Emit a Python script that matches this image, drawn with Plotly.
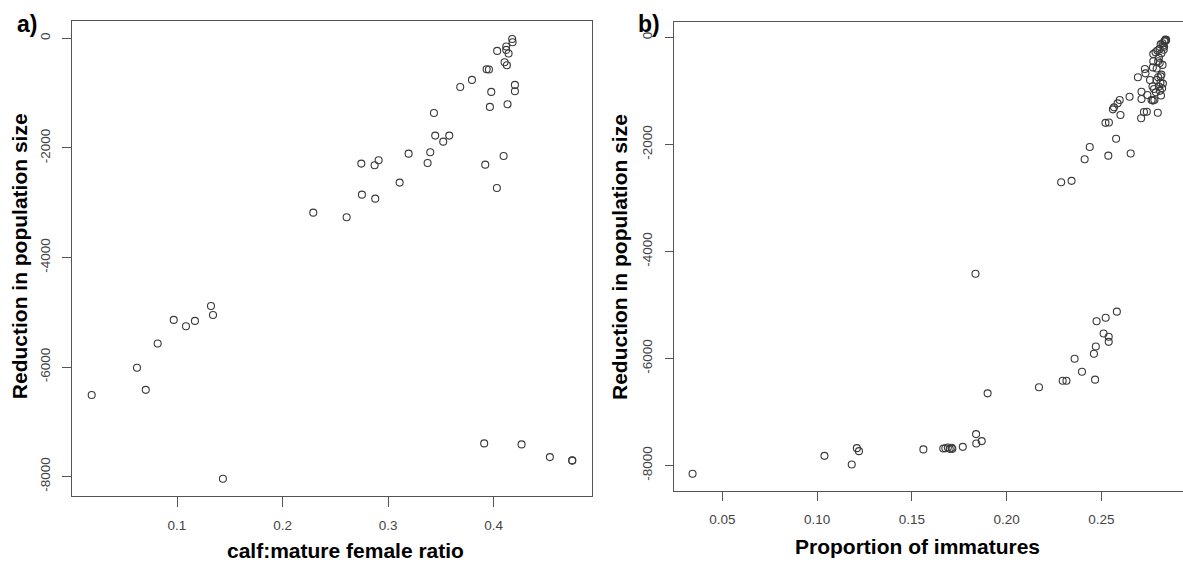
import plotly.graph_objects as go

# ---- Panel a) data: calf:mature female ratio vs reduction in population size
calf_ratio = [0.0192, 0.0621, 0.0704, 0.0817, 0.0969, 0.1085, 0.1170, 0.1322, 0.1341, 0.1435,
              0.2291, 0.2607, 0.2746, 0.2752, 0.2872, 0.2910, 0.2878, 0.3109, 0.3194, 0.3374,
              0.3399, 0.3434, 0.3446, 0.3522, 0.3579, 0.3683, 0.3794, 0.3933, 0.3955, 0.3920,
              0.3964, 0.3977, 0.4030, 0.4033, 0.4094, 0.4103, 0.4119, 0.4125, 0.4119, 0.4141,
              0.4131, 0.4175, 0.4179, 0.4201, 0.4201,
              0.3910, 0.4264, 0.4532, 0.4743, 0.4745]
reduction_a = [-6511, -6014, -6416, -5571, -5139, -5254, -5157, -4886, -5050, -8039,
               -3181, -3266, -2286, -2853, -2316, -2225, -2926, -2633, -2104, -2274,
               -2079, -1361, -1775, -1885, -1775, -886, -758, -564, -569, -2305,
               -1251, -977, -2731, -228, -2146, -435, -149, -490, -210, -277,
               -1202, -10, -70, -849, -965,
               -7394, -7412, -7644, -7704, -7708]

# ---- Panel b) data: proportion of immatures vs reduction in population size
immature_prop = [0.0343, 0.1039, 0.1183, 0.1210, 0.1221, 0.1561, 0.1666, 0.1677, 0.1690, 0.1700,
                 0.1710, 0.1714, 0.1769, 0.1839, 0.1840, 0.1869, 0.1900, 0.2171, 0.2296, 0.2316,
                 0.2359, 0.2398, 0.2467, 0.2461, 0.2471, 0.2475, 0.2512, 0.2523, 0.2539, 0.2539,
                 0.2582,
                 0.1836,
                 0.2288, 0.2343, 0.2412, 0.2439, 0.2537, 0.2578, 0.2655,
                 0.2522, 0.2540, 0.2561, 0.2567, 0.2586, 0.2597, 0.2601, 0.2649,
                 0.2710, 0.2725, 0.2740, 0.2712, 0.2712, 0.2743,
                 0.2693, 0.2730, 0.2733, 0.2757,
                 0.2765, 0.2772, 0.2780, 0.2770, 0.2778, 0.2788,
                 0.2772, 0.2774, 0.2774, 0.2786, 0.2796, 0.2804, 0.2808,
                 0.2798, 0.2791, 0.2800, 0.2804, 0.2812, 0.2813, 0.2817, 0.2821, 0.2815, 0.2809, 0.2825,
                 0.2813, 0.2823, 0.2833, 0.2840, 0.2838, 0.2808, 0.2817, 0.2829, 0.2831, 0.2800,
                 0.2792, 0.2823, 0.2836, 0.2842, 0.2826]
reduction_b = [-8155, -7821, -7982, -7677, -7733, -7701, -7683, -7680, -7665, -7690,
               -7670, -7690, -7653, -7415, -7590, -7546, -6653, -6539, -6418, -6418,
               -6007, -6249, -6397, -5912, -5778, -5306, -5535, -5239, -5596, -5690,
               -5125,
               -4418,
               -2707, -2680, -2276, -2047, -2209, -1892, -2168,
               -1596, -1589, -1343, -1306, -1231, -1169, -1449, -1107,
               -1511, -1393, -1387, -1150, -1013, -1075,
               -744, -589, -670, -794,
               -1169, -1180, -1169, -916, -963, -1024,
               -559, -444, -310, -276, -242, -377, -478,
               -1406, -794, -744, -916, -848, -727, -694, -949, -1084, -997, -862,
               -128, -108, -74, -54, -40, -209, -296, -229, -175, -444,
               -579, -512, -60, -45, -150]

y_ticks = [0, -2000, -4000, -6000, -8000]
y_tick_text = ["0", "-2000", "-4000", "-6000", "-8000"]
xa_ticks = [0.1, 0.2, 0.3, 0.4]
xa_tick_text = ["0.1", "0.2", "0.3", "0.4"]
xb_ticks = [0.05, 0.10, 0.15, 0.20, 0.25]
xb_tick_text = ["0.05", "0.10", "0.15", "0.20", "0.25"]

W, H = 1183, 565
def px(x):
    return x / W
def py(y):
    return (H - y) / H

marker = dict(symbol="circle-open", size=7, color="#3a3a3a", line=dict(width=1.1, color="#3a3a3a"))

fig = go.Figure()
fig.add_trace(go.Scatter(x=calf_ratio, y=reduction_a, mode="markers", marker=marker,
                         xaxis="x", yaxis="y", showlegend=False))
fig.add_trace(go.Scatter(x=immature_prop, y=reduction_b, mode="markers", marker=marker,
                         xaxis="x2", yaxis="y2", showlegend=False))

tickfont = dict(family="Liberation Sans, Arial, sans-serif", size=13.5, color="#444")
axis_common = dict(showgrid=False, zeroline=False, showline=True, linecolor="#555", linewidth=1.2,
                   ticks="outside", tickcolor="#555", tickwidth=1, tickfont=tickfont)

fig.update_layout(
    width=W, height=H,
    margin=dict(l=0, r=0, t=0, b=0),
    paper_bgcolor="white", plot_bgcolor="white",
    xaxis=dict(domain=[px(72.4), px(592.3)], range=[0.00092, 0.4934], anchor="y",
               tickvals=xa_ticks, ticktext=xa_tick_text, ticklen=10, mirror=True,
               ticklabelstandoff=7, **axis_common),
    yaxis=dict(domain=[py(496), py(20.7)], range=[-8354, 323], anchor="x",
               tickvals=y_ticks, ticktext=y_tick_text, ticklen=9, tickangle=-90, mirror=True,
               ticklabelstandoff=7, **axis_common),
    xaxis2=dict(domain=[px(673.7), 1.0], range=[0.02435, 0.2931], anchor="y2",
                tickvals=xb_ticks, ticktext=xb_tick_text, ticklen=9, mirror=True,
                ticklabelstandoff=7, **axis_common),
    yaxis2=dict(domain=[py(490.6), py(22.2)], range=[-8471, 286], anchor="x2",
                tickvals=y_ticks, ticktext=y_tick_text, ticklen=8, tickangle=-90, mirror=False,
                ticklabelstandoff=7, **axis_common),
)

title_font = dict(family="Liberation Sans, Arial, sans-serif", size=21, color="black")
label_font = dict(family="Liberation Sans, Arial, sans-serif", size=23, color="black")
annotations = [
    dict(text="<b>calf:mature female ratio</b>", x=px(345.6), y=py(550.5), font=title_font),
    dict(text="<b>Reduction in population size</b>", x=px(19.5), y=py(256.7), textangle=-90, font=title_font),
    dict(text="<b>Proportion of immatures</b>", x=px(917.5), y=py(546.5), font=title_font),
    dict(text="<b>Reduction in population size</b>", x=px(619), y=py(257), textangle=-90, font=title_font),
    dict(text="<b>a)</b>", x=px(27), y=py(24), font=label_font),
    dict(text="<b>b)</b>", x=px(649), y=py(24), font=label_font),
]
for a in annotations:
    a.update(xref="paper", yref="paper", showarrow=False, xanchor="center", yanchor="middle")
fig.update_layout(annotations=annotations)

# remove the browser's default body margin so the figure sits exactly in the 1183x565 window
fig.write_html("out.html",
               config={"displayModeBar": False},
               post_script="document.body.style.margin='0';document.body.style.overflow='hidden';")
